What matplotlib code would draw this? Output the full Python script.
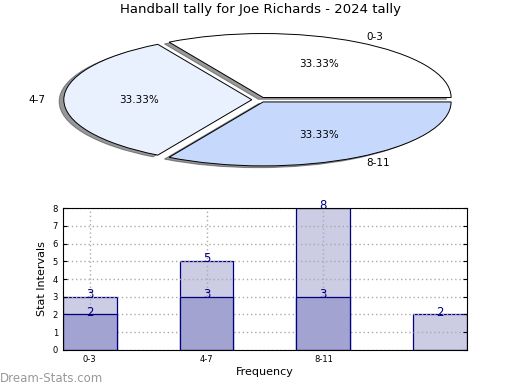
import matplotlib.pyplot as plt

plt.rcParams['font.family'] = ['DejaVu Sans']

title = "Handball tally for Joe Richards - 2024 tally"
pie_labels = ['0-3', '4-7', '8-11']
pie_values = [1, 1, 1]
pie_colors = ['#ffffff', '#eaf1fe', '#c6d9fd']

bar_labels = ['0-3', '4-7', '8-11']
light_values = [3, 5, 8, 2]
dark_values = [2, 3, 3]

fig = plt.figure(figsize=(5.2, 3.9), dpi=100)

# pie (squashed into an ellipse)
ax1 = fig.add_axes([0.0385, 0.538, 0.923, 0.410])
wedges, texts, autotexts = ax1.pie(
    pie_values, labels=pie_labels, colors=pie_colors, startangle=0,
    explode=[0.04, 0.04, 0.04], autopct='%.2f%%', pctdistance=0.6,
    labeldistance=1.1, shadow={'ox': -0.018, 'oy': -0.02, 'shade': 0.8},
    wedgeprops={'edgecolor': 'black', 'linewidth': 0.7},
    textprops={'fontsize': 7.5})
ax1.set_aspect('auto')
ax1.set_xlim(-1.273, 1.280)
ax1.set_ylim(-1.258, 1.242)
ax1.axis('off')

fig.text(0.5, 1 - 10 / 390, title, ha='center', va='center', fontsize=9.5)

# bars
ax2 = fig.add_axes([0.121, 0.1026, 0.777, 0.364])
xs = range(len(light_values))
ax2.bar(xs, light_values, width=0.46, color='#ccccE5', edgecolor='#000080',
        linewidth=0.9, zorder=2)
ax2.bar(range(len(dark_values)), dark_values, width=0.46, color='#a3a3d2',
        edgecolor='#000080', linewidth=0.9, zorder=3)
for x, v in zip(xs, light_values):
    ax2.annotate(str(v), (x, v), xytext=(0, -3), textcoords='offset points',
                 ha='center', va='bottom', color='#000080', fontsize=8.5, zorder=6)
for x, v in enumerate(dark_values):
    ax2.annotate(str(v), (x, v), xytext=(0, -3), textcoords='offset points',
                 ha='center', va='bottom', color='#000080', fontsize=8.5, zorder=6)

ax2.set_xlim(-0.23, 3.23)
ax2.set_ylim(0, 8)
ax2.set_xticks(range(len(bar_labels)))
ax2.set_xticklabels(bar_labels)
ax2.set_yticks(range(0, 9))
ax2.tick_params(labelsize=6, direction='in', length=3, right=True)
ax2.set_axisbelow(False)
ax2.grid(True, linestyle=(0, (1, 2)), color='#aaaaaa', linewidth=1, zorder=5)
for sp in ax2.spines.values():
    sp.set_zorder(7)
ax2.set_xlabel('Frequency', fontsize=8, labelpad=2)
ax2.set_ylabel('Stat Intervals', fontsize=8, labelpad=4)

fig.text(0.0, 1 - 378 / 390, 'Dream-Stats.com', ha='left', va='center',
         fontsize=8.5, color='#999999')

fig.savefig('out.png', dpi=100)
